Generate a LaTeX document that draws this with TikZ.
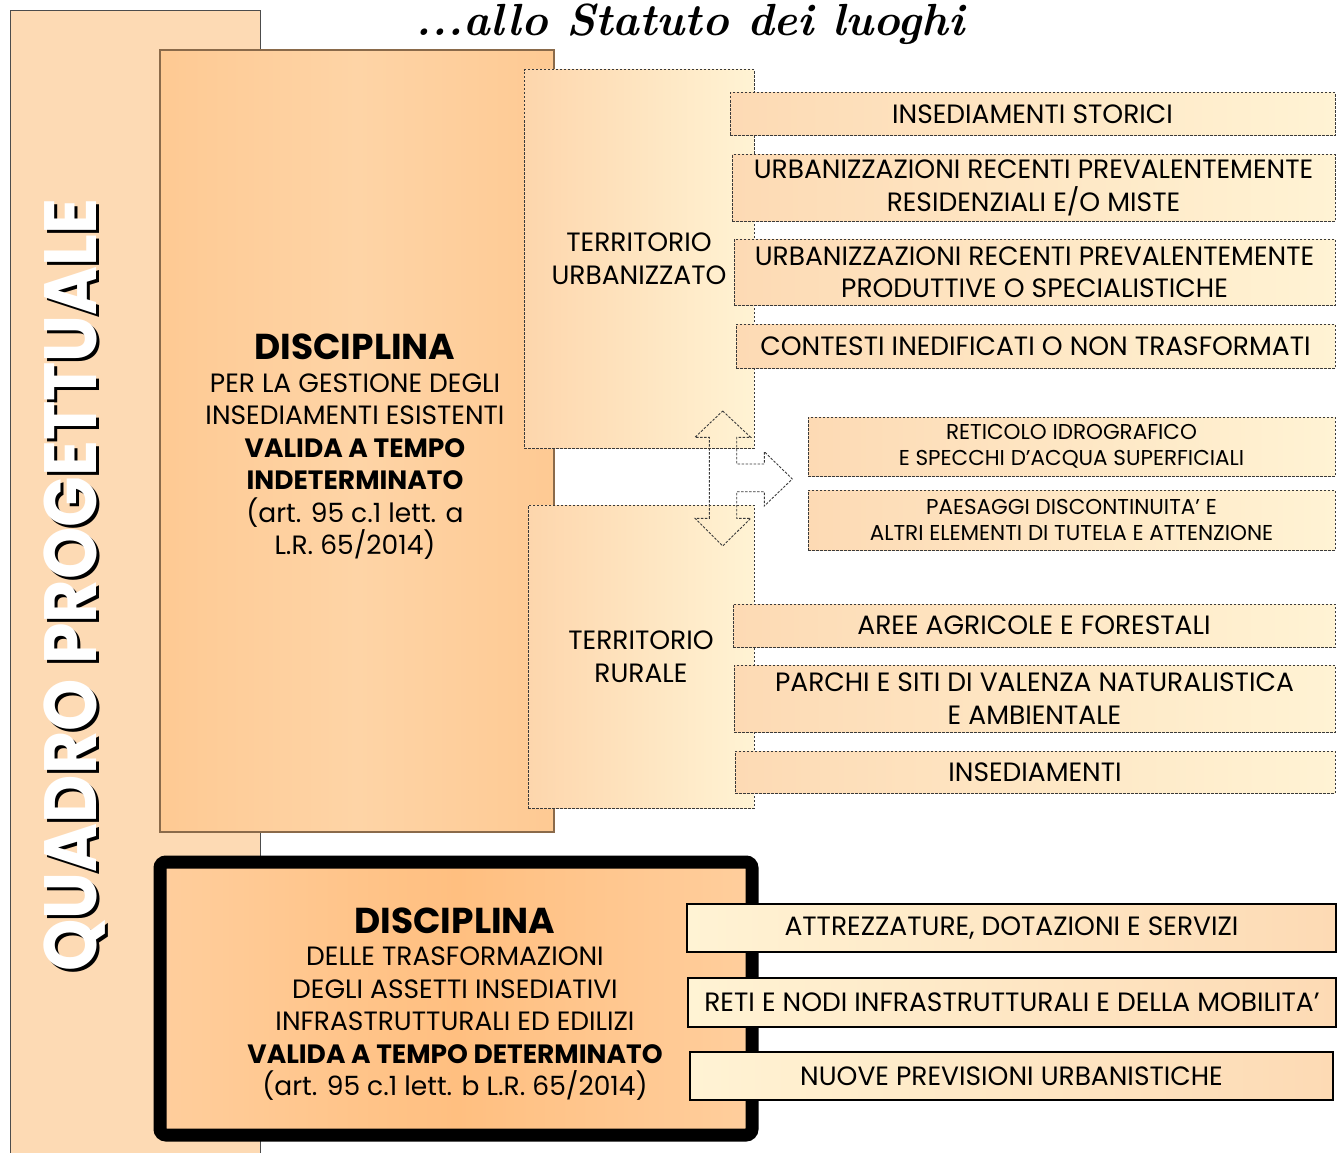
\documentclass[tikz,border=0pt]{standalone}
\usepackage{fontspec}
\setmainfont{Poppins}
\newfontfamily\calligrafia{Latin Modern Roman}
\usetikzlibrary{positioning}

\definecolor{pesca}{HTML}{FDDAB4}
\definecolor{arancio}{HTML}{FFBF80}
\definecolor{medio}{HTML}{FED4A6}
\definecolor{chiaro}{HTML}{FEDDB9}
\definecolor{crema}{HTML}{FFF3D4}
\definecolor{bordo}{HTML}{8A6A4A}
\definecolor{tratto}{HTML}{3A3A3A}

\pgfdeclarehorizontalshading{gestionesh}{100bp}{color(0bp)=(arancio); color(50bp)=(medio); color(100bp)=(arancio)}
\pgfdeclarehorizontalshading{fasciash}{100bp}{color(0bp)=(chiaro); color(50bp)=(arancio); color(100bp)=(chiaro)}

\newcommand\testo{\fontsize{26.5}{32.5}\selectfont}
\newcommand\piccolo{\fontsize{21.5}{26}\selectfont}
\newcommand\grande{\fontsize{36}{40}\selectfont\bfseries}

\tikzset{
    fondo/.style={rectangle, draw=black!70, line width=1pt, fill=pesca, inner sep=0pt},
    disciplina/.style={rectangle, draw=bordo, line width=1.2pt, shading=gestionesh, inner sep=0pt},
    territorio/.style={rectangle, draw=tratto, dash pattern=on 2.5pt off 1.5pt, line width=1pt,
        left color=pesca!85!arancio, right color=crema, inner sep=0pt, align=center, font=\testo},
    voce/.style={rectangle, draw=tratto, dash pattern=on 2.5pt off 1.5pt, line width=1pt,
        left color=pesca, right color=crema, inner sep=0pt, align=center, font=\testo},
    vocepiccola/.style={voce, font=\piccolo},
    voceb/.style={rectangle, draw=black, line width=2.5pt, left color=crema, right color=pesca,
        inner sep=0pt, align=center, font=\testo},
    freccia/.style={draw=tratto, dash pattern=on 2.5pt off 1.5pt, line width=0.9pt}
}

\begin{document}
\begin{tikzpicture}[x=1pt, y=-1pt]
\useasboundingbox (0,0) rectangle (1344,1153);
% titolo
\node (titolo) [anchor=base, font=\fontsize{45}{45}\selectfont\calligrafia\bfseries\itshape] at (690,36) {...allo Statuto dei luoghi};
% fascia di sinistra
\node (quadro) [fondo, minimum width=250pt, minimum height=1160pt, anchor=north west] at (10,10) {};
\node (ombra) [rotate=90, text=black, font=\fontsize{74}{74}\selectfont\bfseries] at (78,588) {\scalebox{0.9}[1]{QUADRO PROGETTUALE}};
\node (scritta) [rotate=90, text=white, font=\fontsize{74}{74}\selectfont\bfseries] at (75,585) {\scalebox{0.9}[1]{QUADRO PROGETTUALE}};
% disciplina esistente
\node (gestione) [disciplina, minimum width=394pt, minimum height=782pt] at (357,441) {};
\node (gestionetxt) [align=center, font=\testo] at (355,447) {{\grande DISCIPLINA}\\
    PER LA GESTIONE DEGLI\\ INSEDIAMENTI ESISTENTI\\ \textbf{VALIDA A TEMPO}\\
    \textbf{INDETERMINATO}\\ (art. 95 c.1 lett. a\\ L.R. 65/2014)};
% territori
\node (urbano) [territorio, minimum width=230pt, minimum height=378pt] at (639,259) {TERRITORIO\\ URBANIZZATO};
\node (rurale) [territorio, minimum width=226pt, minimum height=303pt] at (641,656.5) {\raisebox{-2pt}{TERRITORIO}\\ \raisebox{-2pt}{RURALE}};
% voci territorio urbanizzato
\node (storici) [voce, minimum width=605pt, minimum height=43pt] at (1032.5,114.5) {INSEDIAMENTI STORICI};
\node (residenziali) [voce, minimum width=603pt, minimum height=66pt] at (1033.5,188) {\raisebox{-3pt}{URBANIZZAZIONI RECENTI PREVALENTEMENTE}\\ \raisebox{-3pt}{RESIDENZIALI E/O MISTE}};
\node (produttive) [voce, minimum width=601pt, minimum height=66pt] at (1034.5,272) {\raisebox{-3pt}{URBANIZZAZIONI RECENTI PREVALENTEMENTE}\\ \raisebox{-3pt}{PRODUTTIVE O SPECIALISTICHE}};
\node (contesti) [voce, minimum width=599pt, minimum height=44pt] at (1035.5,346) {CONTESTI INEDIFICATI O NON TRASFORMATI};
% invarianti comuni
\node (reticolo) [vocepiccola, minimum width=527pt, minimum height=59pt] at (1071.5,446.5) {RETICOLO IDROGRAFICO\\ E SPECCHI D’ACQUA SUPERFICIALI};
\node (paesaggi) [vocepiccola, minimum width=527pt, minimum height=60pt] at (1071.5,520) {PAESAGGI DISCONTINUITA’ E\\ ALTRI ELEMENTI DI TUTELA E ATTENZIONE};
% voci territorio rurale
\node (agricole) [voce, minimum width=602pt, minimum height=43pt] at (1034,625.5) {AREE AGRICOLE E FORESTALI};
\node (parchi) [voce, minimum width=601pt, minimum height=67pt] at (1034.5,698.5) {PARCHI E SITI DI VALENZA NATURALISTICA\\ E AMBIENTALE};
\node (insediamenti) [voce, minimum width=600pt, minimum height=42pt] at (1035,772) {INSEDIAMENTI};
% disciplina trasformazioni
\draw[line width=13pt, rounded corners=6pt, shading=fasciash] (160,862) rectangle (752,1135);
\node (trasformazioni) [align=center, font=\testo] at (455,1004) {{\grande DISCIPLINA}\\
    DELLE TRASFORMAZIONI\\ DEGLI ASSETTI INSEDIATIVI\\ INFRASTRUTTURALI ED EDILIZI\\
    \textbf{VALIDA A TEMPO DETERMINATO}\\ (art. 95 c.1 lett. b L.R. 65/2014)};
\node (attrezzature) [voceb, minimum width=649pt, minimum height=48pt] at (1011.5,928) {ATTREZZATURE, DOTAZIONI E SERVIZI};
\node (reti) [voceb, minimum width=648pt, minimum height=49pt] at (1012,1002.5) {RETI E NODI INFRASTRUTTURALI E DELLA MOBILITA’};
\node (nuove) [voceb, minimum width=643pt, minimum height=48pt] at (1011.5,1076) {NUOVE PREVISIONI URBANISTICHE};
% freccia a tre punte
\draw[freccia] (722.7,411) -- (750.7,437.3) -- (736.7,437.3) -- (736.7,464) -- (764.3,464)
    -- (764.3,451.7) -- (792.3,479) -- (764.3,506) -- (764.3,491.7) -- (736.7,491.7)
    -- (736.7,518.3) -- (750.7,518.3) -- (722.7,546) -- (695,518.3) -- (709.3,518.3)
    -- (709.3,437.3) -- (695,437.3) -- cycle;
\end{tikzpicture}
\end{document}
